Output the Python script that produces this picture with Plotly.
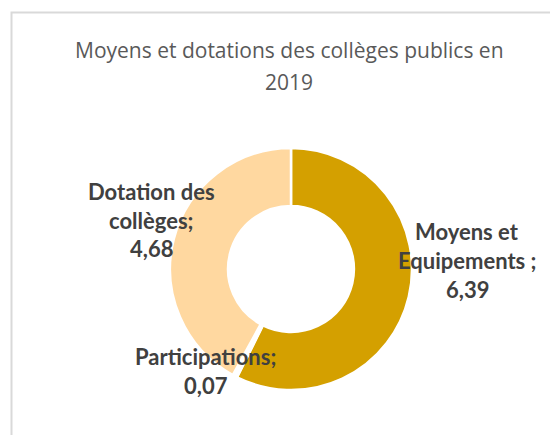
import plotly.graph_objects as go

# page has an 8px body margin; figure is sized/positioned to compensate
OFF = 8
W, H = 550, 427

labels = ["Moyens et Equipements", "Participations", "Dotation des collèges"]
values = [6.39, 0.07, 4.68]
colors = ["#D4A000", "#FFFFFF", "#FFD8A0"]

# label text lines (as displayed)
label_lines = [["Moyens et", "Equipements ;"], ["Participations;"], ["Dotation des", "collèges;"]]
label_pos = [(467, 231), (205.5, 356), (151, 191)]  # first-line centre in page px
LINE_GAP = 29

title_lines = ["Moyens et dotations des collèges publics en", "2019"]


def px(x):
    return (x - OFF) / W


def py(y):
    return 1 - (y - OFF) / H


fig = go.Figure()
fig.add_trace(go.Pie(
    labels=labels,
    values=values,
    hole=0.52,
    sort=False,
    direction="clockwise",
    rotation=0,
    textinfo="none",
    hoverinfo="label+value",
    marker=dict(colors=colors, line=dict(color="white", width=2.5)),
    domain=dict(x=[px(170), px(412)], y=[py(390), py(148)]),
    showlegend=False,
))

annotations = []
for lines, v, (x0, y0) in zip(label_lines, values, label_pos):
    all_lines = lines + [f"{v:.2f}".replace(".", ",")]
    for i, t in enumerate(all_lines):
        annotations.append(dict(
            x=px(x0), y=py(y0 + i * LINE_GAP), xref="paper", yref="paper",
            text=f"<b>{t}</b>", showarrow=False, xanchor="center", yanchor="middle",
            font=dict(family="Lato", size=22, color="#404040"),
        ))
for i, t in enumerate(title_lines):
    annotations.append(dict(
        x=px(289), y=py(50 + i * 32), xref="paper", yref="paper",
        text=t, showarrow=False, xanchor="center", yanchor="middle",
        font=dict(family="Open Sans", size=21, color="#595959"),
    ))

fig.update_layout(
    width=W, height=H,
    margin=dict(l=0, r=0, t=0, b=0),
    paper_bgcolor="white",
    plot_bgcolor="white",
    annotations=annotations,
    shapes=[dict(type="rect", xref="paper", yref="paper",
                 x0=px(11.5), x1=1.3, y0=-0.3, y1=py(12.5),
                 line=dict(color="#D9D9D9", width=2), fillcolor="rgba(0,0,0,0)",
                 layer="below")],
)

fig.write_html("out.html")
